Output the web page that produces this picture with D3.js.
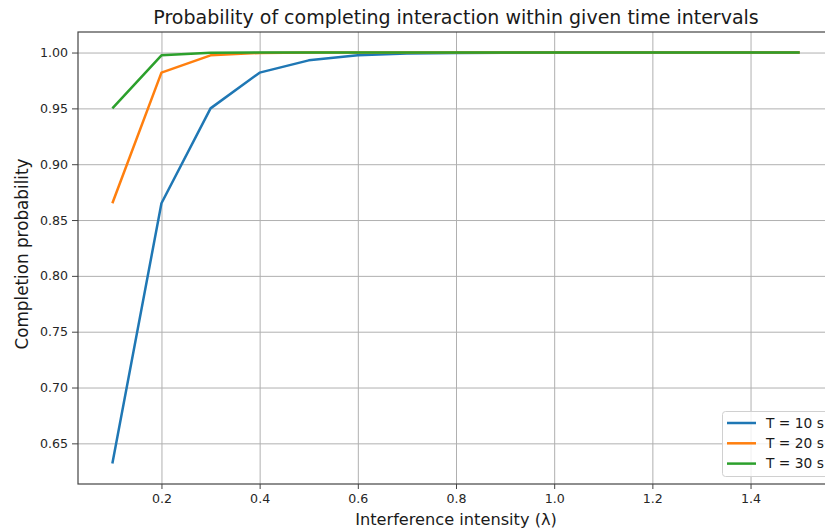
<!DOCTYPE html>
<html>
<head>
<meta charset="utf-8">
<script src="https://cdn.jsdelivr.net/npm/d3@7"></script>
<style>
  body { margin: 0; background: #fff; }
  svg { font-family: "DejaVu Sans", sans-serif; display: block; }
</style>
</head>
<body>
<div id="chart"></div>
<script>
// interference intensity values (x)
var lambdas = [0.1, 0.2, 0.3, 0.4, 0.5, 0.6, 0.7, 0.8, 0.9, 1.0, 1.1, 1.2, 1.3, 1.4, 1.5];

// completion probability for each time interval
var probT10 = [0.632, 0.865, 0.950, 0.982, 0.993, 0.9975, 0.9991, 0.9997, 0.9999, 1.0, 1.0, 1.0, 1.0, 1.0, 1.0];
var probT20 = [0.865, 0.982, 0.9975, 0.9997, 1.0, 1.0, 1.0, 1.0, 1.0, 1.0, 1.0, 1.0, 1.0, 1.0, 1.0];
var probT30 = [0.950, 0.9975, 0.9999, 1.0, 1.0, 1.0, 1.0, 1.0, 1.0, 1.0, 1.0, 1.0, 1.0, 1.0, 1.0];

var seriesNames = ["T = 10 s", "T = 20 s", "T = 30 s"];
var xTicks = [0.2, 0.4, 0.6, 0.8, 1.0, 1.2, 1.4];
var yTicks = [0.65, 0.70, 0.75, 0.80, 0.85, 0.90, 0.95, 1.00];

var colors = ["#1f77b4", "#ff7f0e", "#2ca02c"];
var series = [probT10, probT20, probT30];

var width = 825, height = 531;
var margin = {left: 78, right: -9, top: 32, bottom: 47};

var svg = d3.select("#chart").append("svg")
  .attr("width", width)
  .attr("height", height);

// matplotlib style 5% padding on data range
var xmin = d3.min(lambdas), xmax = d3.max(lambdas);
var ymin = d3.min(series, function(s){ return d3.min(s); });
var ymax = d3.max(series, function(s){ return d3.max(s); });
var xpad = (xmax - xmin) * 0.05, ypad = (ymax - ymin) * 0.05;

var x = d3.scaleLinear()
  .domain([xmin - xpad, xmax + xpad])
  .range([margin.left, width - margin.right]);
var y = d3.scaleLinear()
  .domain([ymin - ypad, ymax + ypad])
  .range([height - margin.bottom, margin.top]);

var plotH = height - margin.bottom - margin.top;
var plotW = width - margin.right - margin.left;

// grid
svg.append("g")
  .attr("transform", "translate(0," + (height - margin.bottom) + ")")
  .call(d3.axisBottom(x).tickValues(xTicks).tickSize(-plotH).tickFormat(""))
  .call(function(g){
    g.select(".domain").remove();
    g.selectAll("line").attr("stroke", "#b0b0b0").attr("stroke-width", 1);
  });
svg.append("g")
  .attr("transform", "translate(" + margin.left + ",0)")
  .call(d3.axisLeft(y).tickValues(yTicks).tickSize(-plotW).tickFormat(""))
  .call(function(g){
    g.select(".domain").remove();
    g.selectAll("line").attr("stroke", "#b0b0b0").attr("stroke-width", 1);
  });

// lines
var line = d3.line()
  .x(function(d, i){ return x(lambdas[i]); })
  .y(function(d){ return y(d); });

svg.selectAll(".series")
  .data(series)
  .enter()
  .append("path")
  .attr("class", "series")
  .attr("d", line)
  .attr("fill", "none")
  .attr("stroke", function(d, i){ return colors[i]; })
  .attr("stroke-width", 2.5)
  .attr("stroke-linejoin", "round");

// axes
var xAxis = svg.append("g")
  .attr("transform", "translate(0," + (height - margin.bottom) + ")")
  .call(d3.axisBottom(x).tickValues(xTicks).tickSize(5).tickPadding(5).tickFormat(d3.format(".1f")));
var yAxis = svg.append("g")
  .attr("transform", "translate(" + margin.left + ",0)")
  .call(d3.axisLeft(y).tickValues(yTicks).tickSize(6).tickPadding(4).tickFormat(d3.format(".2f")));

[xAxis, yAxis].forEach(function(g){
  g.selectAll("text").attr("font-size", 12.6).attr("fill", "#262626").attr("font-family", "DejaVu Sans, sans-serif");
  g.selectAll("line").attr("stroke", "#444");
  g.select(".domain").remove();
});

// spines
svg.append("rect")
  .attr("x", margin.left)
  .attr("y", margin.top)
  .attr("width", plotW)
  .attr("height", plotH)
  .attr("fill", "none")
  .attr("stroke", "#444")
  .attr("stroke-width", 1.2);

// title and axis labels
svg.append("text")
  .attr("x", (margin.left + width - margin.right) / 2)
  .attr("y", 24)
  .attr("text-anchor", "middle")
  .attr("font-size", 19)
  .attr("fill", "#1a1a1a")
  .text("Probability of completing interaction within given time intervals");

svg.append("text")
  .attr("x", (margin.left + width - margin.right) / 2)
  .attr("y", 525)
  .attr("text-anchor", "middle")
  .attr("font-size", 16.2)
  .attr("fill", "#1a1a1a")
  .text("Interference intensity (\u03bb)");

svg.append("text")
  .attr("transform", "translate(28," + (margin.top + plotH / 2 - 4) + ") rotate(-90)")
  .attr("text-anchor", "middle")
  .attr("font-size", 16.8)
  .attr("fill", "#1a1a1a")
  .text("Completion probability");

// legend
var legend = svg.append("g").attr("transform", "translate(722.5,411.5)");
legend.append("rect")
  .attr("width", 120)
  .attr("height", 65)
  .attr("rx", 3)
  .attr("fill", "#fff")
  .attr("fill-opacity", 0.8)
  .attr("stroke", "#d0d0d0");

var items = legend.selectAll(".item")
  .data(seriesNames)
  .enter()
  .append("g")
  .attr("transform", function(d, i){ return "translate(0," + (11.5 + i * 20.3) + ")"; });
items.append("line")
  .attr("x1", 4.5).attr("x2", 33.5)
  .attr("stroke", function(d, i){ return colors[i]; })
  .attr("stroke-width", 2.5);
items.append("text")
  .attr("x", 43.5)
  .attr("dy", "0.35em")
  .attr("font-size", 13.8)
  .attr("fill", "#1a1a1a")
  .text(function(d){ return d; });
</script>
</body>
</html>
